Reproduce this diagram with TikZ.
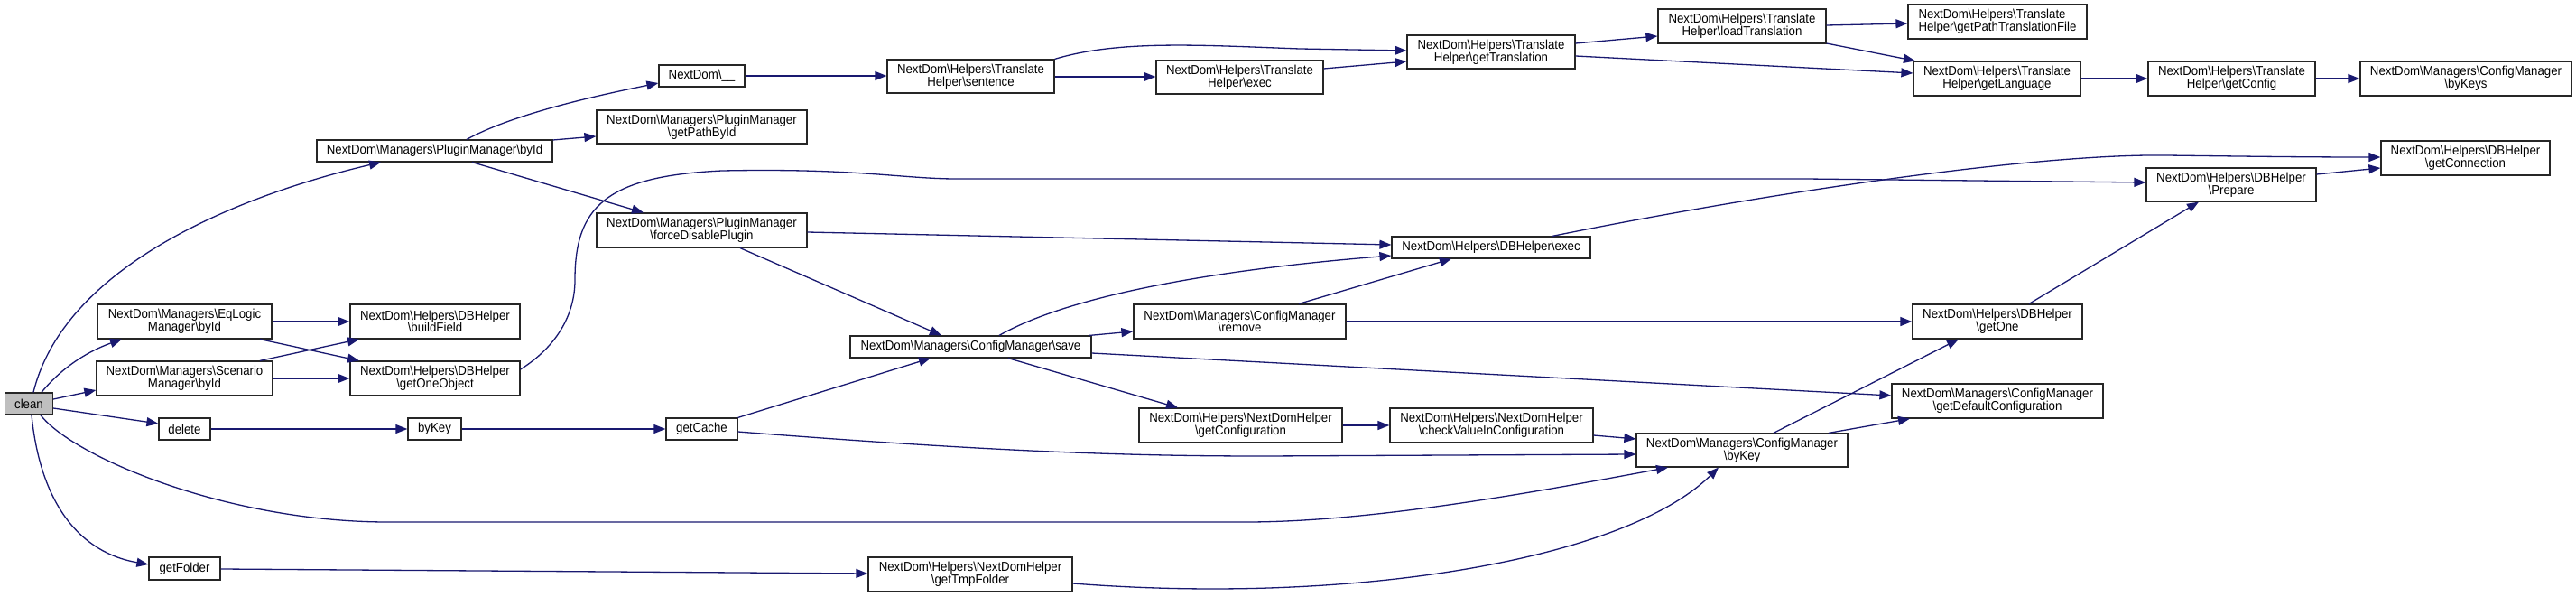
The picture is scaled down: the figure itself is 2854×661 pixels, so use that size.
\documentclass[tikz,border=0pt]{standalone}
\usepackage{fontspec}
\setmainfont{Liberation Sans}[FakeStretch=0.92]
\usetikzlibrary{arrows.meta}
\definecolor{edgec}{HTML}{191970}
\definecolor{cleanfill}{HTML}{BFBFBF}
\newcommand{\bksl}{\textbackslash}
\begin{document}
\begin{tikzpicture}[x=1pt,y=-1pt,
  box/.style={draw=black!85, fill=white, line width=1.2pt, inner sep=0pt, align=center,
    font=\fontsize{14.4}{13.6}\selectfont},
  edge/.style={draw=edgec, line width=1.3pt, -{Triangle[length=13pt,width=10pt]}}]
\useasboundingbox (0,0) rectangle (2854,661);
% nodes
\node[box, fill=cleanfill, minimum width=53pt, minimum height=24pt] (clean) at (32,447) {clean};
\node[box, minimum width=261pt, minimum height=24pt] (PbyId) at (481.5,167) {NextDom\bksl Managers\bksl PluginManager\bksl byId};
\node[box, minimum width=95pt, minimum height=24pt] (NDu) at (777.5,84) {NextDom\bksl\_\_};
\node[box, minimum width=233pt, minimum height=37pt] (getPathById) at (777.5,140.5) {NextDom\bksl Managers\bksl PluginManager\\\bksl getPathById};
\node[box, minimum width=233pt, minimum height=38pt] (forceDisable) at (777.5,255) {NextDom\bksl Managers\bksl PluginManager\\\bksl forceDisablePlugin};
\node[box, minimum width=193pt, minimum height=38pt] (EqLogic) at (204.5,356) {NextDom\bksl Managers\bksl EqLogic\\Manager\bksl byId};
\node[box, minimum width=188pt, minimum height=38pt] (buildField) at (482,356) {NextDom\bksl Helpers\bksl DBHelper\\\bksl buildField};
\node[box, minimum width=195pt, minimum height=38pt] (Scenario) at (204.5,419) {NextDom\bksl Managers\bksl Scenario\\Manager\bksl byId};
\node[box, minimum width=188pt, minimum height=38pt] (getOneObject) at (482,419) {NextDom\bksl Helpers\bksl DBHelper\\\bksl getOneObject};
\node[box, minimum width=57pt, minimum height=24pt] (delete) at (204.5,475) {delete};
\node[box, minimum width=59pt, minimum height=24pt] (byKey) at (481.5,475) {byKey};
\node[box, minimum width=79pt, minimum height=24pt] (getCache) at (777.5,475) {getCache};
\node[box, minimum width=79pt, minimum height=25pt] (getFolder) at (204.5,629.5) {getFolder};
\node[box, minimum width=226pt, minimum height=38pt] (getTmpFolder) at (1075,636) {NextDom\bksl Helpers\bksl NextDomHelper\\\bksl getTmpFolder};
\node[box, minimum width=185pt, minimum height=37pt] (sentence) at (1075.5,84.5) {NextDom\bksl Helpers\bksl Translate\\Helper\bksl sentence};
\node[box, minimum width=267pt, minimum height=24pt] (save) at (1075.5,384) {NextDom\bksl Managers\bksl ConfigManager\bksl save};
\node[box, minimum width=185pt, minimum height=37pt] (Texec) at (1373.5,85.5) {NextDom\bksl Helpers\bksl Translate\\Helper\bksl exec};
\node[box, minimum width=235pt, minimum height=38pt] (remove) at (1373.5,356) {NextDom\bksl Managers\bksl ConfigManager\\\bksl remove};
\node[box, minimum width=225pt, minimum height=38pt] (getConfiguration) at (1374.5,471) {NextDom\bksl Helpers\bksl NextDomHelper\\\bksl getConfiguration};
\node[box, minimum width=186pt, minimum height=37pt] (getTranslation) at (1652,57.5) {NextDom\bksl Helpers\bksl Translate\\Helper\bksl getTranslation};
\node[box, minimum width=220pt, minimum height=24pt] (DBexec) at (1652,274) {NextDom\bksl Helpers\bksl DBHelper\bksl exec};
\node[box, minimum width=225pt, minimum height=38pt] (checkValue) at (1652.5,471) {NextDom\bksl Helpers\bksl NextDomHelper\\\bksl checkValueInConfiguration};
\node[box, minimum width=234pt, minimum height=37pt] (CMbyKey) at (1930,498.5) {NextDom\bksl Managers\bksl ConfigManager\\\bksl byKey};
\node[box, minimum width=186pt, minimum height=38pt] (loadTranslation) at (1930,29) {NextDom\bksl Helpers\bksl Translate\\Helper\bksl loadTranslation};
\node[box, align=left, minimum width=198pt, minimum height=38pt] (getPathTranslationFile) at (2213,24) {NextDom\bksl Helpers\bksl Translate\\Helper\bksl getPathTranslationFile};
\node[box, minimum width=185pt, minimum height=38pt] (getLanguage) at (2212.5,87) {NextDom\bksl Helpers\bksl Translate\\Helper\bksl getLanguage};
\node[box, minimum width=188pt, minimum height=38pt] (getOne) at (2213,356) {NextDom\bksl Helpers\bksl DBHelper\\\bksl getOne};
\node[box, minimum width=234pt, minimum height=38pt] (getDefaultConfiguration) at (2213,444) {NextDom\bksl Managers\bksl ConfigManager\\\bksl getDefaultConfiguration};
\node[box, minimum width=185pt, minimum height=38pt] (getConfig) at (2472.5,87) {NextDom\bksl Helpers\bksl Translate\\Helper\bksl getConfig};
\node[box, minimum width=188pt, minimum height=37pt] (Prepare) at (2472,204.5) {NextDom\bksl Helpers\bksl DBHelper\\\bksl Prepare};
\node[box, minimum width=234pt, minimum height=38pt] (byKeys) at (2732,87) {NextDom\bksl Managers\bksl ConfigManager\\\bksl byKeys};
\node[box, minimum width=187pt, minimum height=38pt] (getConnection) at (2731.5,175) {NextDom\bksl Helpers\bksl DBHelper\\\bksl getConnection};
% edges
\draw[edge] (37,0 |- clean.north) .. controls (70,300) and (250,220) .. (422,0 |- PbyId.south);
\draw[edge] (46,0 |- clean.north) .. controls (70,405) and (100,388) .. (135,0 |- EqLogic.south);
\draw[edge] (clean.east |- 0,442) -- (Scenario.west |- 0,432);
\draw[edge] (clean.east |- 0,452) -- (delete.west |- 0,469);
\draw[edge] (45,0 |- clean.south) .. controls (80,505) and (250,578) .. (430,578) -- (1380,578) .. controls (1520,578) and (1700,545) .. (1848,0 |- CMbyKey.south);
\draw[edge] (35,0 |- clean.south) .. controls (45,560) and (90,612) .. (getFolder.west |- 0,625);
\draw[edge] (517,0 |- PbyId.north) .. controls (565,128) and (650,108) .. (NDu.west |- 0,92);
\draw[edge] (PbyId.east |- 0,155) -- (getPathById.west |- 0,151);
\draw[edge] (523,0 |- PbyId.south) -- (713,0 |- forceDisable.north);
\draw[edge] (NDu.east) -- (sentence.west |- NDu.east);
\draw[edge] (sentence.north east) .. controls (1240,44) and (1330,50) .. (1440,54) -- (getTranslation.west |- 0,56);
\draw[edge] (sentence.east |- 0,85) -- (Texec.west |- 0,85);
\draw[edge] (Texec.east |- 0,76) -- (getTranslation.west |- 0,68);
\draw[edge] (getTranslation.east |- 0,48) -- (loadTranslation.west |- 0,40);
\draw[edge] (getTranslation.east |- 0,62) -- (getLanguage.west |- 0,81);
\draw[edge] (loadTranslation.east |- 0,28) -- (getPathTranslationFile.west |- 0,26);
\draw[edge] (loadTranslation.east |- 0,48) -- (2122,0 |- getLanguage.north);
\draw[edge] (getLanguage) -- (getConfig);
\draw[edge] (getConfig) -- (byKeys);
\draw[edge] (forceDisable.east |- 0,257) -- (DBexec.west |- 0,271);
\draw[edge] (820,0 |- forceDisable.south) -- (1043,0 |- save.north);
\draw[edge] (1107,0 |- save.north) .. controls (1180,330) and (1330,300) .. (DBexec.west |- 0,283);
\draw[edge] (1207,0 |- save.north) -- (remove.west |- 0,367);
\draw[edge] (save.east |- 0,391) -- (getDefaultConfiguration.west |- 0,438);
\draw[edge] (1117,0 |- save.south) -- (1305,0 |- getConfiguration.north);
\draw[edge] (1439,0 |- remove.north) -- (1608,0 |- DBexec.south);
\draw[edge] (remove.east) -- (getOne.west);
\draw[edge] (getConfiguration) -- (checkValue);
\draw[edge] (checkValue.east |- 0,482) -- (CMbyKey.west |- 0,486);
\draw[edge] (getCache.north east) -- (1031,0 |- save.south);
\draw[edge] (getCache.east |- 0,478) .. controls (1100,500) and (1250,505) .. (1400,505) -- (CMbyKey.west |- 0,503);
\draw[edge] (delete) -- (byKey);
\draw[edge] (byKey) -- (getCache);
\draw[edge] (getFolder.east |- 0,630) -- (getTmpFolder.west |- 0,635);
\draw[edge] (getTmpFolder.east |- 0,646) .. controls (1500,670) and (1800,620) .. (1904,0 |- CMbyKey.south);
\draw[edge] (1965,0 |- CMbyKey.north) -- (2170,0 |- getOne.south);
\draw[edge] (2026,0 |- CMbyKey.north) -- (2116,0 |- getDefaultConfiguration.south);
\draw[edge] (2248,0 |- getOne.north) -- (2436,0 |- Prepare.south);
\draw[edge] (Prepare.east |- 0,193) -- (getConnection.west |- 0,186);
\draw[edge] (1720,0 |- DBexec.north) .. controls (1950,215) and (2250,170) .. (2400,172) .. controls (2480,173) and (2550,174) .. (getConnection.west |- 0,174);
\draw[edge] (getOneObject.east |- 0,409) .. controls (615,385) and (637,350) .. (637,310) .. controls (637,230) and (670,195) .. (800,189) .. controls (950,186) and (1000,198) .. (1060,198) -- (2000,198) -- (Prepare.west |- 0,202);
\draw[edge] (EqLogic) -- (buildField);
\draw[edge] (288,0 |- EqLogic.south) -- (398,0 |- getOneObject.north);
\draw[edge] (288,0 |- Scenario.north) -- (398,0 |- buildField.south);
\draw[edge] (Scenario) -- (getOneObject);
\end{tikzpicture}
\end{document}
